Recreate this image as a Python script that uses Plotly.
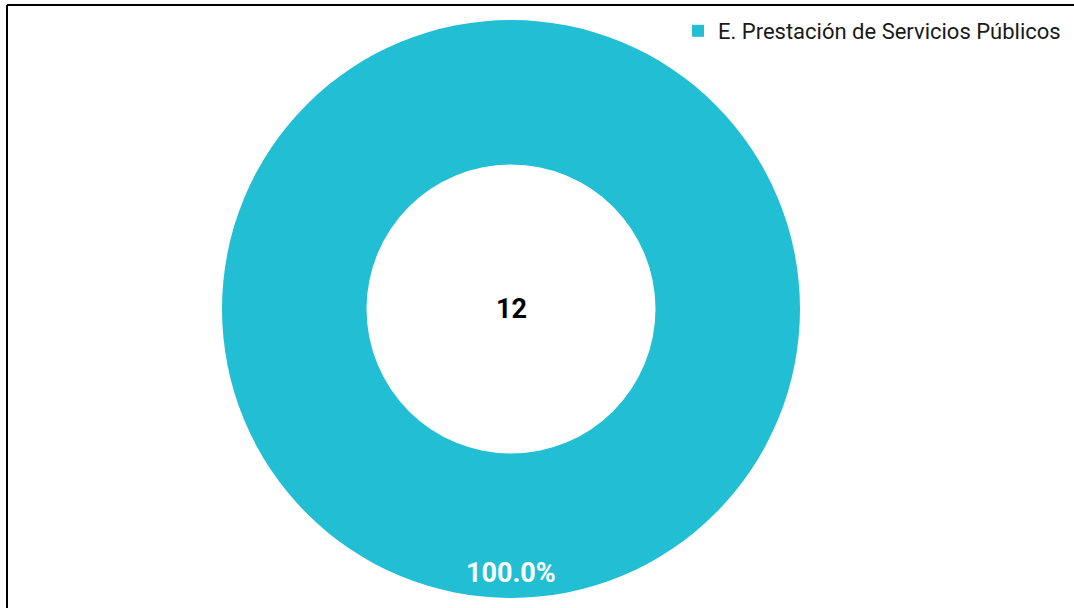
import plotly.graph_objects as go

labels = ["E. Prestación de Servicios Públicos"]
values = [12]
colors = ["#21BED4"]
total_label = "12"

W, H = 1074, 608


def px(x):
    return x / W


def py(y):
    return 1 - y / H


cx, cy, R = 511, 309, 289

fig = go.Figure(go.Pie(
    labels=labels,
    values=values,
    hole=0.5,
    sort=False,
    direction="clockwise",
    marker=dict(colors=colors, line=dict(width=0)),
    textinfo="none",
    domain=dict(x=[px(cx - R), px(cx + R)], y=[py(cy + R), py(cy - R)]),
    showlegend=True,
    hoverinfo="label+value+percent",
))

pct = values[0] / sum(values)
fig.add_annotation(
    text="<b>%.1f%%</b>" % (pct * 100), x=px(cx), y=py(573),
    xref="paper", yref="paper", showarrow=False,
    xanchor="center", yanchor="middle",
    font=dict(size=27, color="white", family="Roboto"),
)

fig.add_annotation(
    text="<b>%s</b>" % total_label, x=px(cx), y=py(cy),
    xref="paper", yref="paper", showarrow=False,
    xanchor="center", yanchor="middle",
    font=dict(size=27, color="black", family="Roboto"),
)

# frame lines of the (cropped) chart area
fig.add_shape(type="line", xref="paper", yref="paper",
              x0=px(7), x1=1, y0=py(5), y1=py(5),
              line=dict(color="black", width=2))
fig.add_shape(type="line", xref="paper", yref="paper",
              x0=px(7), x1=px(7), y0=0, y1=py(5),
              line=dict(color="black", width=2))

fig.update_layout(
    width=W, height=H,
    margin=dict(l=0, r=0, t=0, b=0),
    paper_bgcolor="white",
    plot_bgcolor="white",
    legend=dict(
        x=px(1066), xanchor="right", y=py(10), yanchor="top",
        font=dict(size=22, family="Roboto", color="#1a1a1a"),
        itemsizing="constant",
        bgcolor="rgba(0,0,0,0)",
    ),
)

fig.write_html("out.html", config={"displayModeBar": False},
               post_script="document.body.style.margin='0';")
